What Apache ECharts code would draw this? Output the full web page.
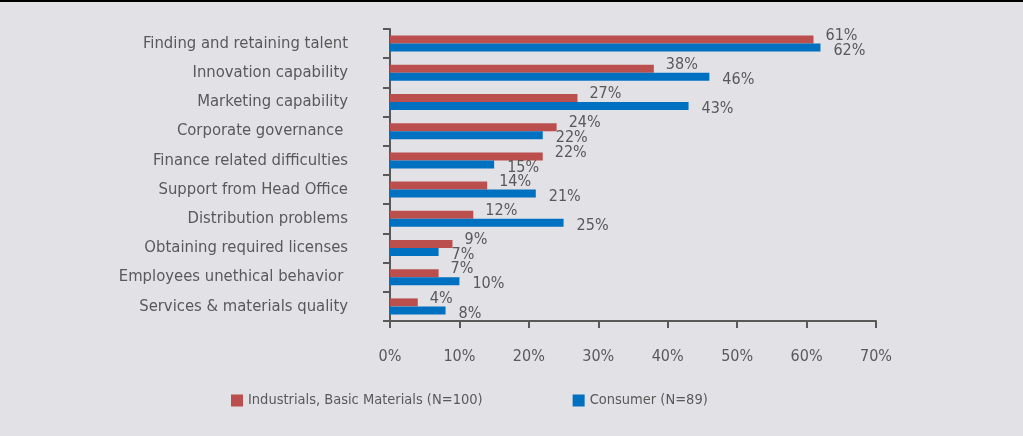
<!DOCTYPE html>
<html>
<head>
<meta charset="utf-8">
<script src="https://cdn.jsdelivr.net/npm/echarts@6/dist/echarts.min.js"></script>
<style>
  html, body { margin: 0; padding: 0; background: #e2e1e6; }
  #chart { width: 1023px; height: 436px; }
</style>
</head>
<body>
<div id="chart"></div>
<script>
// Chart data
const categories = [
    'Finding and retaining talent',
    'Innovation capability',
    'Marketing capability',
    'Corporate governance ',
    'Finance related difficulties',
    'Support from Head Office',
    'Distribution problems',
    'Obtaining required licenses',
    'Employees unethical behavior ',
    'Services & materials quality'
];
const industrials = [61, 38, 27, 24, 22, 14, 12, 9, 7, 4];
const consumer = [62, 46, 43, 22, 15, 21, 25, 7, 10, 8];
const seriesNames = ['Industrials, Basic Materials (N=100)', 'Consumer (N=89)'];
const xTicks = [0, 10, 20, 30, 40, 50, 60, 70];

const font = '"Liberation Sans Narrow", "DejaVu Sans Condensed", Arial, sans-serif';
const grey = '#595959';

const chart = echarts.init(document.getElementById('chart'));

const option = {
    backgroundColor: '#e2e1e6',
    animation: false,
    textStyle: { fontFamily: font, color: grey },
    graphic: [
        { type: 'rect', left: 0, top: 0, shape: { width: 1023, height: 2 }, style: { fill: '#000' } }
    ],
    legend: {
        data: seriesNames,
        top: 393,
        left: 231,
        padding: 0,
        itemWidth: 12,
        itemHeight: 12,
        itemGap: 90,
        icon: 'rect',
        textStyle: { fontFamily: font, fontSize: 14.5, color: grey }
    },
    grid: { left: 390, right: 147, top: 29, bottom: 115 },
    xAxis: {
        type: 'value',
        min: xTicks[0],
        max: xTicks[xTicks.length - 1],
        interval: 10,
        axisLine: { show: true, lineStyle: { color: grey, width: 2 } },
        axisTick: { show: true, length: 7, lineStyle: { color: grey, width: 2 } },
        splitLine: { show: false },
        axisLabel: {
            margin: 28,
            fontFamily: font,
            fontSize: 16,
            color: grey,
            formatter: v => v + '%'
        }
    },
    yAxis: {
        type: 'category',
        data: categories,
        inverse: true,
        axisLine: { show: true, lineStyle: { color: grey, width: 2 } },
        axisTick: { show: true, length: 7, lineStyle: { color: grey, width: 2 } },
        axisLabel: { margin: 42, fontFamily: font, fontSize: 16.5, color: grey }
    },
    series: [
        {
            name: seriesNames[0],
            type: 'bar',
            data: industrials,
            barWidth: 8,
            barGap: '0%',
            itemStyle: { color: '#bb4f4d' },
            label: {
                show: true,
                position: 'right',
                distance: 12,
                offset: [0, -4],
                fontFamily: font,
                fontSize: 16,
                color: grey,
                formatter: p => p.value + '%'
            }
        },
        {
            name: seriesNames[1],
            type: 'bar',
            data: consumer,
            barWidth: 8,
            barGap: '0%',
            itemStyle: { color: '#0070c0' },
            label: {
                show: true,
                position: 'right',
                distance: 13,
                offset: [0, 3],
                fontFamily: font,
                fontSize: 16,
                color: grey,
                formatter: p => p.value + '%'
            }
        }
    ]
};

chart.setOption(option);

window.addEventListener('resize', () => {
    chart?.resize();
});
</script>
</body>
</html>
